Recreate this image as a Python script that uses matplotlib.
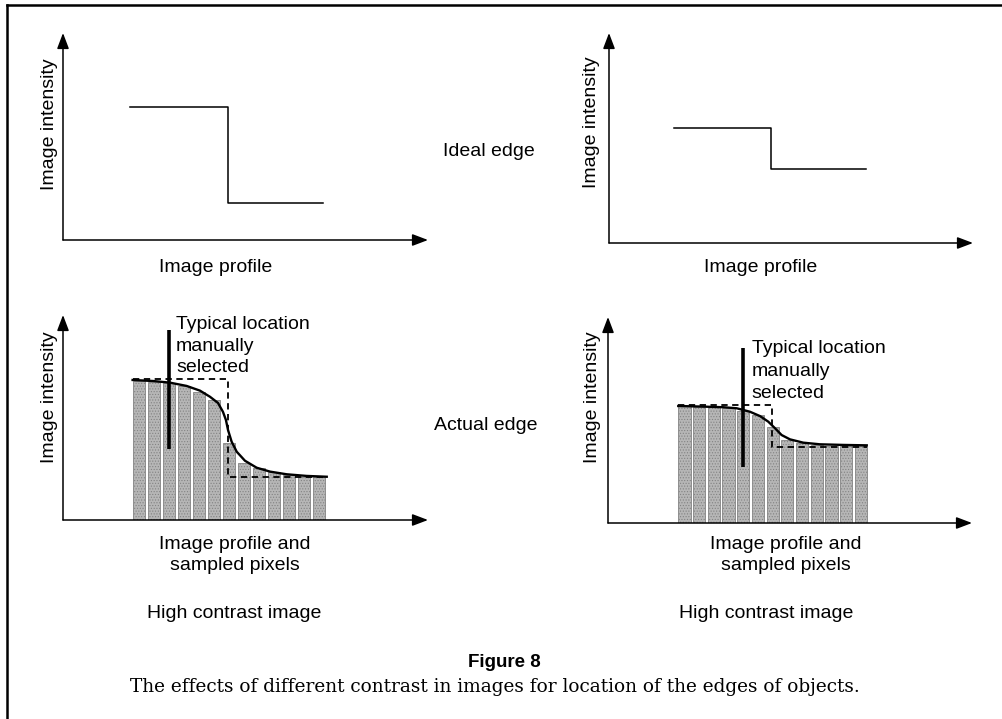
import matplotlib
matplotlib.use("Agg")
import matplotlib.pyplot as plt
from matplotlib.lines import Line2D
import numpy as np

# ---------------- data (intensity on a 0-100 scale, x in pixel units) ----------------
pixel_index = list(range(13))

ideal_high_x = [-0.6, 5.92, 5.92, 12.25]
ideal_high_y = [64.3, 64.3, 17.9, 17.9]

ideal_low_x = [-0.8, 5.82, 5.82, 12.3]
ideal_low_y = [54.9, 54.9, 35.4, 35.4]

bars_left = [68.0, 67.5, 67.0, 65.5, 62.5, 58.5, 37.5, 28.0, 25.5, 23.5, 22.0, 21.0, 21.0]
bars_right = [56.8, 56.5, 56.2, 55.7, 54.5, 52.4, 46.7, 40.3, 38.7, 37.9, 37.5, 37.4, 37.4]

curve_left_x = [-0.44, 0.92, 2.05, 3.16, 4.05, 4.72, 5.25, 5.58, 5.78, 5.92, 6.16, 6.5,
                7.05, 7.83, 8.72, 9.83, 11.16, 12.5]
curve_left_y = [68.3, 67.8, 67.0, 65.4, 63.1, 60.1, 57.1, 52.8, 48.8, 43.9, 38.2, 33.3,
                28.9, 25.5, 23.6, 22.3, 21.5, 21.1]

curve_right_x = [-0.42, 1.28, 2.64, 3.55, 4.46, 5.14, 5.7, 6.16, 6.61, 7.18, 8.08, 9.22,
                 10.8, 12.4]
curve_right_y = [56.8, 56.5, 56.2, 55.7, 54.0, 51.9, 49.2, 46.0, 42.7, 40.6, 39.0, 38.2,
                 37.9, 37.7]

dashed_left_x = [-0.42, 5.92, 5.92, 12.5]
dashed_left_y = [68.8, 68.8, 21.2, 21.2]
dashed_right_x = [-0.44, 5.93, 5.93, 12.4]
dashed_right_y = [57.3, 57.3, 37.0, 37.0]

selected_left = (2, 34.6, 92.7)   # pixel index, y from, y to
selected_right = (4, 27.2, 85.0)

# ---------------- figure ----------------
W, H = 1003, 719
fig = plt.figure(figsize=(W / 100, H / 100), dpi=100)
fig.patch.set_facecolor("white")
SANS = ["Liberation Sans", "DejaVu Sans"]
FS = 14
plt.rcParams["hatch.color"] = "#8e8e8e"
plt.rcParams["hatch.linewidth"] = 0.5


def rect(left, bottom, right, top):
    return [left / W, 1 - bottom / H, (right - left) / W, (bottom - top) / H]


def ftext(x, y, s, **kw):
    kw.setdefault("family", SANS)
    kw.setdefault("fontsize", FS)
    kw.setdefault("color", "black")
    fig.text(x / W, 1 - y / H, s, **kw)


def make_axes(r, xlim):
    ax = fig.add_axes(r)
    ax.set_xlim(*xlim)
    ax.set_ylim(0, 100)
    for s in ("top", "right", "left", "bottom"):
        ax.spines[s].set_visible(False)
    ax.set_xticks([])
    ax.set_yticks([])
    ax.patch.set_alpha(0)
    arrow = dict(arrowstyle="-|>,head_length=0.95,head_width=0.36", color="black",
                 lw=1.1, mutation_scale=10, shrinkA=0, shrinkB=0)
    ax.annotate("", xy=(0, 1), xytext=(0, 0), xycoords="axes fraction", arrowprops=arrow)
    ax.annotate("", xy=(1, 0), xytext=(0, 0), xycoords="axes fraction", arrowprops=arrow)
    return ax


def pixel_bars(ax, heights):
    ax.bar(pixel_index, heights, width=0.83, color="#b6b6b6", edgecolor="#838383",
           lw=0.6, hatch="......")


# top-left: ideal edge, high contrast
ax_tl = make_axes(rect(63, 240, 428, 33), (-5.08, 19.25))
ax_tl.plot(ideal_high_x, ideal_high_y, color="black", lw=1.1)

# top-right: ideal edge, low contrast
ax_tr = make_axes(rect(609, 243, 973, 33), (-5.2, 19.56))
ax_tr.plot(ideal_low_x, ideal_low_y, color="black", lw=1.1)

# bottom-left: actual edge, high contrast
ax_bl = make_axes(rect(63, 520, 428, 315), (-5.08, 19.25))
pixel_bars(ax_bl, bars_left)
ax_bl.plot(dashed_left_x, dashed_left_y, color="black", lw=1.3, dashes=(3.5, 2.5))
ax_bl.plot(curve_left_x, curve_left_y, color="black", lw=1.7)
ax_bl.plot([selected_left[0]] * 2, selected_left[1:], color="black", lw=2.6,
           solid_capstyle="butt")

# bottom-right: actual edge, low contrast
ax_br = make_axes(rect(608, 523, 972, 317), (-5.2, 19.56))
pixel_bars(ax_br, bars_right)
ax_br.plot(dashed_right_x, dashed_right_y, color="black", lw=1.3, dashes=(3.5, 2.5))
ax_br.plot(curve_right_x, curve_right_y, color="black", lw=1.7)
ax_br.plot([selected_right[0]] * 2, selected_right[1:], color="black", lw=2.6,
           solid_capstyle="butt")

# ---------------- texts ----------------
for (x, y) in [(50, 124), (592, 122), (50, 397), (593, 397)]:
    ftext(x, y, "Image intensity", rotation=90, ha="center", va="center")

ftext(216, 272, "Image profile", ha="center", va="baseline")
ftext(761, 272, "Image profile", ha="center", va="baseline")
ftext(489, 155.5, "Ideal edge", ha="center", va="baseline")
ftext(486, 430.5, "Actual edge", ha="center", va="baseline")

ftext(235, 549, "Image profile and", ha="center", va="baseline")
ftext(235, 570.5, "sampled pixels", ha="center", va="baseline")
ftext(786, 549, "Image profile and", ha="center", va="baseline")
ftext(786, 570.5, "sampled pixels", ha="center", va="baseline")

ftext(234, 617.5, "High contrast image", ha="center", va="baseline")
ftext(766, 617.5, "High contrast image", ha="center", va="baseline")

for i, line in enumerate(["Typical location", "manually", "selected"]):
    ftext(176, 329 + 21.6 * i, line, ha="left", va="baseline")
    ftext(751.5, 353 + 22.5 * i, line, ha="left", va="baseline")

ftext(504, 667, "Figure 8", ha="center", va="baseline", fontweight="bold", fontsize=13.5,
      family=["Liberation Sans", "DejaVu Sans"])
ftext(495, 692, "The effects of different contrast in images for location of the edges of objects.",
      ha="center", va="baseline", fontsize=13.3, family=["DejaVu Serif"])

# ---------------- page frame (top and left rule) ----------------
fig.add_artist(Line2D([7 / W, 1.0], [1 - 4.5 / H, 1 - 4.5 / H], color="black", lw=1.8,
                      transform=fig.transFigure))
fig.add_artist(Line2D([7 / W, 7 / W], [0, 1 - 4.5 / H], color="black", lw=1.8,
                      transform=fig.transFigure))

fig.savefig("out.png", dpi=100, facecolor="white")
